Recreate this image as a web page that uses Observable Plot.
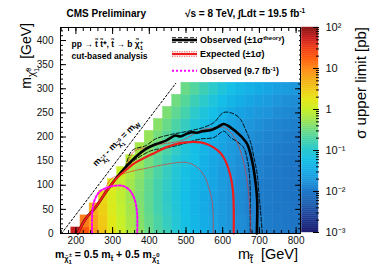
<!DOCTYPE html>
<html><head><meta charset="utf-8">
<script src="https://cdn.jsdelivr.net/npm/d3@7"></script>
<script src="https://cdn.jsdelivr.net/npm/@observablehq/plot@0.6"></script>
<style>
body{margin:0;background:#fff;}
#wrap{position:relative;width:374px;height:268px;overflow:hidden;background:#fff;}
#wrap svg{position:absolute;top:0;}
text{white-space:pre;}
</style></head><body><div id="wrap"></div>
<script>
// ---- data ----
const mStop = [200,225,250,275,300,325,350,375,400,425,450,475,500,525,550,575,600,625,650,675,700,725,750,775,800];
const mLSP = [0,25,50,75,100,125,150,175,200,225,250,275,300];
// sigma upper limit [pb], one list per mStop column, from mLSP = 0 upward
const limits = [
  [55],
  [20,12],
  [8,6.5,5],
  [3.5,3.1,2.7,2.4],
  [1.8,1.6,1.45,1.35,1.5],
  [1.1,1.0,0.92,0.86,0.9,1.0],
  [0.7,0.64,0.6,0.56,0.58,0.66,0.78],
  [0.46,0.42,0.4,0.38,0.4,0.44,0.52,0.62],
  [0.3,0.28,0.26,0.25,0.26,0.29,0.34,0.42,0.5],
  [0.2,0.19,0.17,0.17,0.17,0.19,0.22,0.27,0.34,0.42],
  [0.14,0.13,0.12,0.115,0.12,0.13,0.15,0.18,0.23,0.29,0.37],
  [0.095,0.09,0.085,0.082,0.085,0.09,0.1,0.12,0.15,0.19,0.25,0.32],
  [0.065,0.06,0.058,0.056,0.058,0.062,0.07,0.08,0.1,0.13,0.17,0.22,0.29],
  [0.048,0.045,0.043,0.042,0.044,0.047,0.058,0.056,0.068,0.085,0.11,0.15,0.21],
  [0.036,0.034,0.033,0.032,0.034,0.036,0.039,0.043,0.05,0.062,0.08,0.11,0.15],
  [0.028,0.027,0.026,0.026,0.027,0.028,0.03,0.033,0.037,0.045,0.058,0.078,0.11],
  [0.022,0.021,0.021,0.02,0.021,0.022,0.023,0.025,0.028,0.033,0.042,0.056,0.078],
  [0.018,0.018,0.017,0.017,0.017,0.018,0.019,0.02,0.022,0.026,0.032,0.042,0.058],
  [0.015,0.015,0.014,0.014,0.014,0.015,0.016,0.017,0.018,0.021,0.026,0.034,0.046],
  [0.013,0.013,0.012,0.012,0.012,0.013,0.013,0.014,0.016,0.018,0.022,0.028,0.038],
  [0.012,0.012,0.011,0.011,0.011,0.012,0.012,0.013,0.014,0.016,0.019,0.024,0.032],
  [0.011,0.011,0.0105,0.0105,0.0105,0.011,0.011,0.012,0.013,0.014,0.017,0.021,0.027],
  [0.0105,0.0102,0.01,0.01,0.01,0.0102,0.0105,0.011,0.012,0.013,0.015,0.018,0.024],
  [0.01,0.0098,0.0096,0.0095,0.0096,0.0098,0.01,0.0105,0.011,0.012,0.014,0.016,0.021],
  [0.0095,0.0093,0.0091,0.009,0.0091,0.0093,0.0095,0.01,0.0105,0.0115,0.013,0.015,0.019]
];
// contours (mStop, mLSP)
const obsX = [205,226,253,281,308,335,362,390,417,444,471,485,500,515,530,545,566,585,603,621,648,667,680,689,694,693];
const obsY = [0,30,54,85,113,137,158,175,185,192,203,201,206,210,209,212,214,220,227,220,203,185,151,109,68,0];
const obsUpX = [335,353,390,417,458,485,512,548,576,603,630,648,662,676,685,694,698,703,708];
const obsUpY = [137,172,182,196,205,209,213,220,230,251,248,237,216,189,158,123,89,47,0];
const obsDnX = [345,358,403,449,485,510,540,576,603,621,640,657,668,673,675,675,675];
const obsDnY = [142,151,171,178,184,190,196,199,212,199,190,178,150,120,88,40,0];
const expX = [205,226,253,281,308,335,362,390,417,444,471,499,520,540,558,576,595,608,621,628,630,630];
const expY = [0,30,54,85,112,131,147,158,168,178,185,189,190,189,185,178,166,150,120,88,55,0];
const expUpX = [340,358,390,430,485,520,548,576,603,630,648,662,670,675,677];
const expUpY = [143,170,178,185,192,205,216,219,220,202,172,130,88,40,0];
const expDnX = [275,294,330,358,390,421,450,476,503,525,540,553,562,570,574,574];
const expDnY = [80,112,124,130,135,140,144,147,147,140,130,115,95,72,40,0];
const magX = [244,244,246,253,265,285,305,326,342,355,363,367,367];
const magY = [0,30,55,73,87,95,99,99,93,80,62,40,0];
const wX = [160.8,472];
const wY = [0,311.2];
// axes
const xMajor = [200,300,400,500,600,700,800];
const xMinor = d3.range(160, 813, 20);
const yMajor = [0,50,100,150,200,250,300,350,400];
const yMinor = d3.range(0, 427, 10);
const zMajor = [1e-3,1e-2,1e-1,1,10,100];
const zLabels = ["10\u207B\u00B3","10\u207B\u00B2","10\u207B\u00B9","1","10","10\u00B2"];
const paletteStops = ["#1e1e70","#1e3288","#1e4ba0","#1e64b4","#1e78c8","#1e96dc","#14aae6","#14bee6","#28c8d2","#46d2aa","#6edc82","#a0e650","#c8f028","#e6e614","#f0c814","#f5aa14","#ff8c1e","#ff5a0a","#f03c14","#c81e1e","#8b1a1a"];

// ---- build ----
const font = "'Liberation Sans', Arial, Helvetica, sans-serif";
const palette = d3.piecewise(d3.interpolateRgb, paletteStops);
const colorOpts = {type: "log", domain: [1e-3, 1e2], interpolate: palette, clamp: true};
const hx = (mStop[1] - mStop[0]) / 2, hy = (mLSP[1] - mLSP[0]) / 2;
const cells = [];
mStop.forEach((m, i) => limits[i].forEach((v, j) => {
  const l = mLSP[j];
  cells.push({x1: m - hx, x2: m + hx, y1: Math.max(0, l - hy), y2: l + hy, v});
}));
const pts = (X, Y) => X.map((x, i) => [x, Y[i]]);
const line = (X, Y, o) => Plot.line(pts(X, Y), {curve: "catmull-rom", ...o});

const main = Plot.plot({
  width: 374, height: 268, marginLeft: 60, marginRight: 74, marginTop: 27, marginBottom: 35,
  style: {fontFamily: font, fontSize: "10px", background: "transparent", color: "#000"},
  x: {domain: [158, 812], label: null},
  y: {domain: [0, 427], label: null},
  color: colorOpts,
  marks: [
    Plot.rect(cells, {x1: "x1", x2: "x2", y1: "y1", y2: "y2", fill: "v", stroke: "v", strokeWidth: 0.5}),
    line(obsUpX, obsUpY, {stroke: "#000", strokeWidth: 0.9, strokeDasharray: "4,2"}),
    line(obsDnX, obsDnY, {stroke: "#000", strokeWidth: 0.9, strokeDasharray: "4,2"}),
    line(expUpX, expUpY, {stroke: "#e83030", strokeWidth: 0.8, strokeDasharray: "1.2,1.2"}),
    line(expDnX, expDnY, {stroke: "#e83030", strokeWidth: 0.8, strokeDasharray: "1.2,1.2"}),
    line(obsX, obsY, {stroke: "#000", strokeWidth: 2.6}),
    line(expX, expY, {stroke: "#ee1c1c", strokeWidth: 2.2}),
    line(magX, magY, {stroke: "#ff00ff", strokeWidth: 2, strokeDasharray: "2,2"}),
    Plot.line(pts(wX, wY), {stroke: "#000", strokeWidth: 1, strokeDasharray: "2,2"}),
    Plot.frame({stroke: "#000"}),
    Plot.axisX(xMajor, {anchor: "bottom", tickSize: 0, tickPadding: 3, label: null, fontSize: 10, fill: "#111"}),
    Plot.axisX(xMajor, {anchor: "bottom", tickSize: -6, fill: "none", label: null}),
    Plot.axisX(xMinor, {anchor: "bottom", tickSize: -3, fill: "none", label: null}),
    Plot.axisX(xMajor, {anchor: "top", tickSize: -6, fill: "none", label: null}),
    Plot.axisX(xMinor, {anchor: "top", tickSize: -3, fill: "none", label: null}),
    Plot.axisY(yMajor, {anchor: "left", tickSize: 0, tickPadding: 7, label: null, fontSize: 10, fill: "#111"}),
    Plot.axisY(yMajor, {anchor: "left", tickSize: -6, fill: "none", label: null}),
    Plot.axisY(yMinor, {anchor: "left", tickSize: -3, fill: "none", label: null}),
    Plot.axisY(yMajor, {anchor: "right", tickSize: -6, fill: "none", label: null}),
    Plot.axisY(yMinor, {anchor: "right", tickSize: -3, fill: "none", label: null})
  ]
});
main.style.left = "0px";
document.getElementById("wrap").appendChild(main);

const bands = d3.range(100).map(i => ({lo: 10 ** (-3 + i / 20), hi: 10 ** (-3 + (i + 1) / 20)}));
const zMinor = zMajor.slice(0, -1).flatMap(d => d3.range(2, 10).map(k => d * k));
const cb = Plot.plot({
  width: 74, height: 268, marginLeft: 1.5, marginRight: 56, marginTop: 27, marginBottom: 36,
  style: {fontFamily: font, fontSize: "11px", background: "transparent", color: "#000"},
  x: {domain: [0, 1], axis: null},
  y: {type: "log", domain: [1e-3, 1e2], label: null},
  color: colorOpts,
  marks: [
    Plot.rect(bands, {x1: 0, x2: 1, y1: "lo", y2: "hi", fill: d => Math.sqrt(d.lo * d.hi), stroke: d => Math.sqrt(d.lo * d.hi), strokeWidth: 0.4}),
    Plot.axisY(zMajor, {anchor: "right", tickSize: -6, fill: "none", label: null}),
    Plot.axisY(zMinor, {anchor: "right", tickSize: -3, fill: "none", label: null}),
    Plot.axisY(zMajor, {anchor: "right", tickSize: 0, tickPadding: 7, label: null, fontSize: 11, fill: "#111", tickFormat: d => zLabels[zMajor.indexOf(d)]})
  ]
});
cb.style.left = "300px";
document.getElementById("wrap").appendChild(cb);

// ---- text overlay ----
const svg = d3.select("#wrap").append("svg").attr("width", 374).attr("height", 268)
  .style("left", "0px").attr("font-family", font).attr("fill", "#000");
function rich(x, y, parts, {size = 10, weight = "normal", anchor = "start", transform = null} = {}) {
  const t = svg.append("text").attr("x", x).attr("y", y).attr("font-size", size)
    .attr("font-weight", weight).attr("text-anchor", anchor);
  if (transform) t.attr("transform", transform);
  let cur = 0;
  for (const p of parts) {
    const off = p.y || 0;
    const ts = t.append("tspan").attr("dy", off - cur).text(p.t);
    ts.attr("font-size", p.s || size);
    if (p.dx) ts.attr("dx", p.dx);
    cur = off;
  }
  return t;
}
const sx = main.scale("x"), sy = main.scale("y");

rich(66.5, 16.5, [{t: "CMS Preliminary"}], {size: 10, weight: "bold"});
rich(185, 16.5, [{t: "\u221As = 8 TeV, \u222BLdt = 19.5 fb"}, {t: "-1", s: 6.5, y: -4}], {size: 10, weight: "bold"});
rich(71.5, 46.5, [{t: "pp \u2192 t\u0303 t\u0303*, t\u0303 \u2192 b \u03C7\u0303"}, {t: "+", s: 6, y: -3}, {t: "1", s: 6, y: 3, dx: -3.5}], {size: 8.5, weight: "bold"});
rich(71.5, 58.5, [{t: "cut-based analysis"}], {size: 8.5, weight: "bold"});

// legend
svg.append("rect").attr("x", 168).attr("y", 33).attr("width", 131).attr("height", 47).attr("fill", "#fff");
const lg = (y1, stroke, w, dash) => svg.append("line").attr("x1", 172).attr("x2", 197).attr("y1", y1).attr("y2", y1)
  .attr("stroke", stroke).attr("stroke-width", w).attr("stroke-dasharray", dash);
lg(37.7, "#000", 0.9, "4,2"); lg(42.3, "#000", 0.9, "4,2"); lg(40, "#000", 2.6, null);
lg(51.7, "#e83030", 0.8, "1.2,1.2"); lg(56.3, "#e83030", 0.8, "1.2,1.2"); lg(54, "#ee1c1c", 2.2, null);
lg(70.7, "#ff00ff", 2, "2,2");
rich(200, 43.3, [{t: "Observed (\u00B11\u03C3"}, {t: "theory", s: 6, y: -3.5}, {t: ")", y: 0}], {size: 9, weight: "bold"});
rich(200, 57.2, [{t: "Expected (\u00B11\u03C3)"}], {size: 9, weight: "bold"});
rich(200, 74, [{t: "Observed (9.7 fb"}, {t: "-1", s: 6, y: -3.5}, {t: ")", y: 0}], {size: 9, weight: "bold"});

// diagonal label
rich(0, 0, [{t: "m"}, {t: "\u03C7\u0303", s: 6.5, y: 2.5}, {t: "\u00B1", s: 5, y: -1}, {t: "1", s: 5, y: 5, dx: -2.9},
  {t: " - m", y: 0}, {t: "\u03C7\u0303", s: 6.5, y: 2.5}, {t: "0", s: 5, y: -1}, {t: "1", s: 5, y: 5, dx: -2.8},
  {t: " = m", y: 0}, {t: "W", s: 6.5, y: 2.5}],
  {size: 9, weight: "bold", anchor: "middle", transform: `translate(${sx.apply(316)},${sy.apply(182)}) rotate(-45)`});

// bottom formula
rich(55, 257.5, [{t: "m"}, {t: "\u03C7\u0303", s: 7.5, y: 3}, {t: "\u00B1", s: 6, y: -0.5}, {t: "1", s: 6, y: 6, dx: -3.5},
  {t: " = 0.5 m", y: 0}, {t: "t\u0303", s: 7.5, y: 3}, {t: " + 0.5 m", y: 0}, {t: "\u03C7\u0303", s: 7.5, y: 3},
  {t: "0", s: 6, y: -0.5}, {t: "1", s: 6, y: 6, dx: -3.3}], {size: 10.5, weight: "bold"});

// axis titles
rich(298, 258.5, [{t: "m"}, {t: "t\u0303", s: 10.5, y: 4.5}, {t: "[GeV]", y: 0, dx: 8}], {size: 14.5, anchor: "end"});
rich(0, 0, [{t: "m"}, {t: "\u03C7\u0303", s: 10, y: 4}, {t: "0", s: 7, y: 0}, {t: "1", s: 7, y: 8, dx: -3.9}, {t: "[GeV]", y: 0, dx: 9}],
  {size: 14, anchor: "end", transform: "translate(31,23) rotate(-90)"});
rich(0, 0, [{t: "\u03C3 upper limit [pb]"}], {size: 15, anchor: "end", transform: "translate(366,27) rotate(-90)"});
</script></body></html>
